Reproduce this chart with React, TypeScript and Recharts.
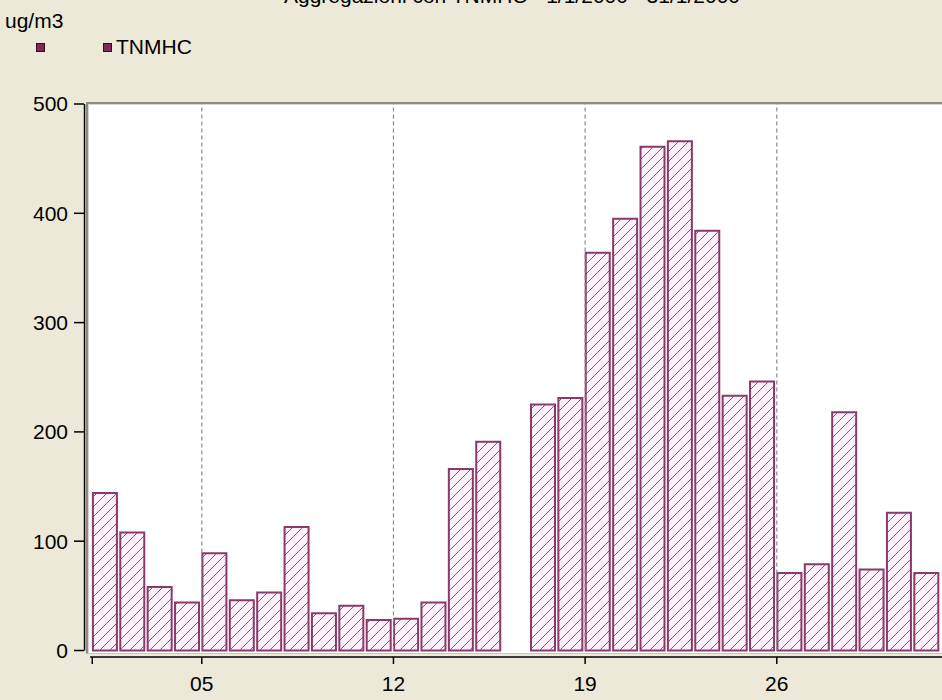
import React from "react";
import { BarChart, Bar, XAxis, YAxis, ReferenceLine } from "recharts";

// daily TNMHC averages, January 2000 (day 16 missing)
const days = [
  1, 2, 3, 4, 5, 6, 7, 8, 9, 10, 11, 12, 13, 14, 15, 16,
  17, 18, 19, 20, 21, 22, 23, 24, 25, 26, 27, 28, 29, 30, 31,
];
const tnmhc = [
  144, 108, 58, 44, 89, 46, 53, 113, 34, 41, 28, 29, 44, 166, 191, null,
  225, 231, 364, 395, 461, 466, 384, 233, 246, 71, 79, 218, 74, 126, 71,
];
const yTicks = [0, 100, 200, 300, 400, 500];
const xTickDays = [1, 5, 12, 19, 26];
const xTickLabels = ["", "05", "12", "19", "26"];
const legendNames = ["", "TNMHC"];
const title = "Aggregazioni con TNMHC  -  1/1/2000  -  31/1/2000";
const unit = "ug/m3";

const data = days.map((d, i) => ({ day: d, value: tnmhc[i] }));

// ticks sit at the start of each day slot
const tickPos = xTickDays.map((d) => d - 0.45);
const xDomain: [number, number] = [0.248, 31.584];
const yDomain: [number, number] = [-5.95, 500];

const FONT = "'Liberation Sans', Arial, sans-serif";
const BG = "#ECE9D8";

export default function App() {
  const labelFor = (v: number) => {
    const i = tickPos.findIndex((t) => Math.abs(t - v) < 0.01);
    return i >= 0 ? xTickLabels[i] : "";
  };

  return (
    <div
      style={{
        position: "absolute",
        left: 0,
        top: 0,
        width: 942,
        height: 700,
        background: BG,
        overflow: "hidden",
        fontFamily: FONT,
        color: "#000",
      }}
    >
      <svg width={0} height={0} style={{ position: "absolute" }}>
        <defs>
          <pattern id="hatch" patternUnits="userSpaceOnUse" width={10} height={10}>
            <rect width={10} height={10} fill="#fcf0fa" />
            <path
              d="M0,10 L10,0 M-2,2 L2,-2 M8,12 L12,8"
              stroke="#9c4c80"
              strokeWidth={1}
            />
          </pattern>
        </defs>
      </svg>

      <div
        style={{
          position: "absolute",
          top: -15,
          left: 0,
          width: 1024,
          textAlign: "center",
          fontSize: 21,
          lineHeight: "21px",
        }}
      >
        {title}
      </div>

      <div style={{ position: "absolute", left: 5, top: 10, fontSize: 21, lineHeight: "22px" }}>
        {unit}
      </div>
      <div
        style={{
          position: "absolute",
          left: 36,
          top: 36,
          display: "flex",
          alignItems: "center",
          fontSize: 21,
          lineHeight: "22px",
        }}
      >
        {legendNames.map((n, i) => (
          <div key={i} style={{ display: "flex", alignItems: "center", marginRight: n ? 0 : 54 }}>
            <span
              style={{
                display: "inline-block",
                width: 7,
                height: 7,
                background: "#7d2a5a",
                border: "1px solid #2a1020",
                marginRight: 4,
              }}
            />
            {n}
          </div>
        ))}
      </div>

      {/* plot background with sunken border */}
      <div
        style={{
          position: "absolute",
          left: 86,
          top: 102,
          width: 860,
          height: 549,
          background: "#fff",
          borderTop: "2px solid #8c8c84",
          borderLeft: "2px solid #8c8c84",
          borderBottom: "1px solid #c8c8c0",
          boxShadow: "inset 1px 1px 0 #d8d6cc",
        }}
      />

      <div style={{ position: "absolute", left: 0, top: 0 }}>
        <BarChart
          width={942}
          height={700}
          data={data}
          margin={{ top: 104, right: 0, left: 0, bottom: 0 }}
        >
          <XAxis
            dataKey="day"
            type="number"
            domain={xDomain}
            ticks={tickPos}
            tickFormatter={labelFor}
            axisLine={false}
            tickSize={7}
            tickMargin={12}
            height={43}
            interval={0}
            tick={{ fill: "#000", fontSize: 21, fontFamily: FONT }}
            tickLine={{ stroke: "#000", strokeWidth: 1.5 }}
            allowDataOverflow
          />
          <YAxis
            type="number"
            domain={yDomain}
            ticks={yTicks}
            width={84}
            axisLine={false}
            tickSize={10}
            tickMargin={6}
            tick={{ fill: "#000", fontSize: 21, fontFamily: FONT }}
            tickLine={{ stroke: "#000", strokeWidth: 1.5 }}
            allowDataOverflow
          />
          <ReferenceLine
            segment={[
              { x: xDomain[0] + 0.02, y: 0 },
              { x: xDomain[0] + 0.02, y: 500 },
            ]}
            stroke="#000"
            strokeWidth={1.5}
            ifOverflow="visible"
          />
          <ReferenceLine
            segment={[
              { x: tickPos[0] - 0.08, y: yDomain[0] },
              { x: xDomain[1], y: yDomain[0] },
            ]}
            stroke="#000"
            strokeWidth={1.5}
            ifOverflow="visible"
          />
          {tickPos.slice(1).map((t) => (
            <ReferenceLine
              key={t}
              segment={[
                { x: t, y: 0 },
                { x: t, y: 500 },
              ]}
              stroke="#8a8a8a"
              strokeDasharray="4 3"
              strokeWidth={1.2}
              ifOverflow="visible"
            />
          ))}
          <Bar
            dataKey="value"
            fill="url(#hatch)"
            stroke="#8a3a6a"
            strokeWidth={2}
            barSize={24}
            isAnimationActive={false}
          />
        </BarChart>
      </div>
    </div>
  );
}
